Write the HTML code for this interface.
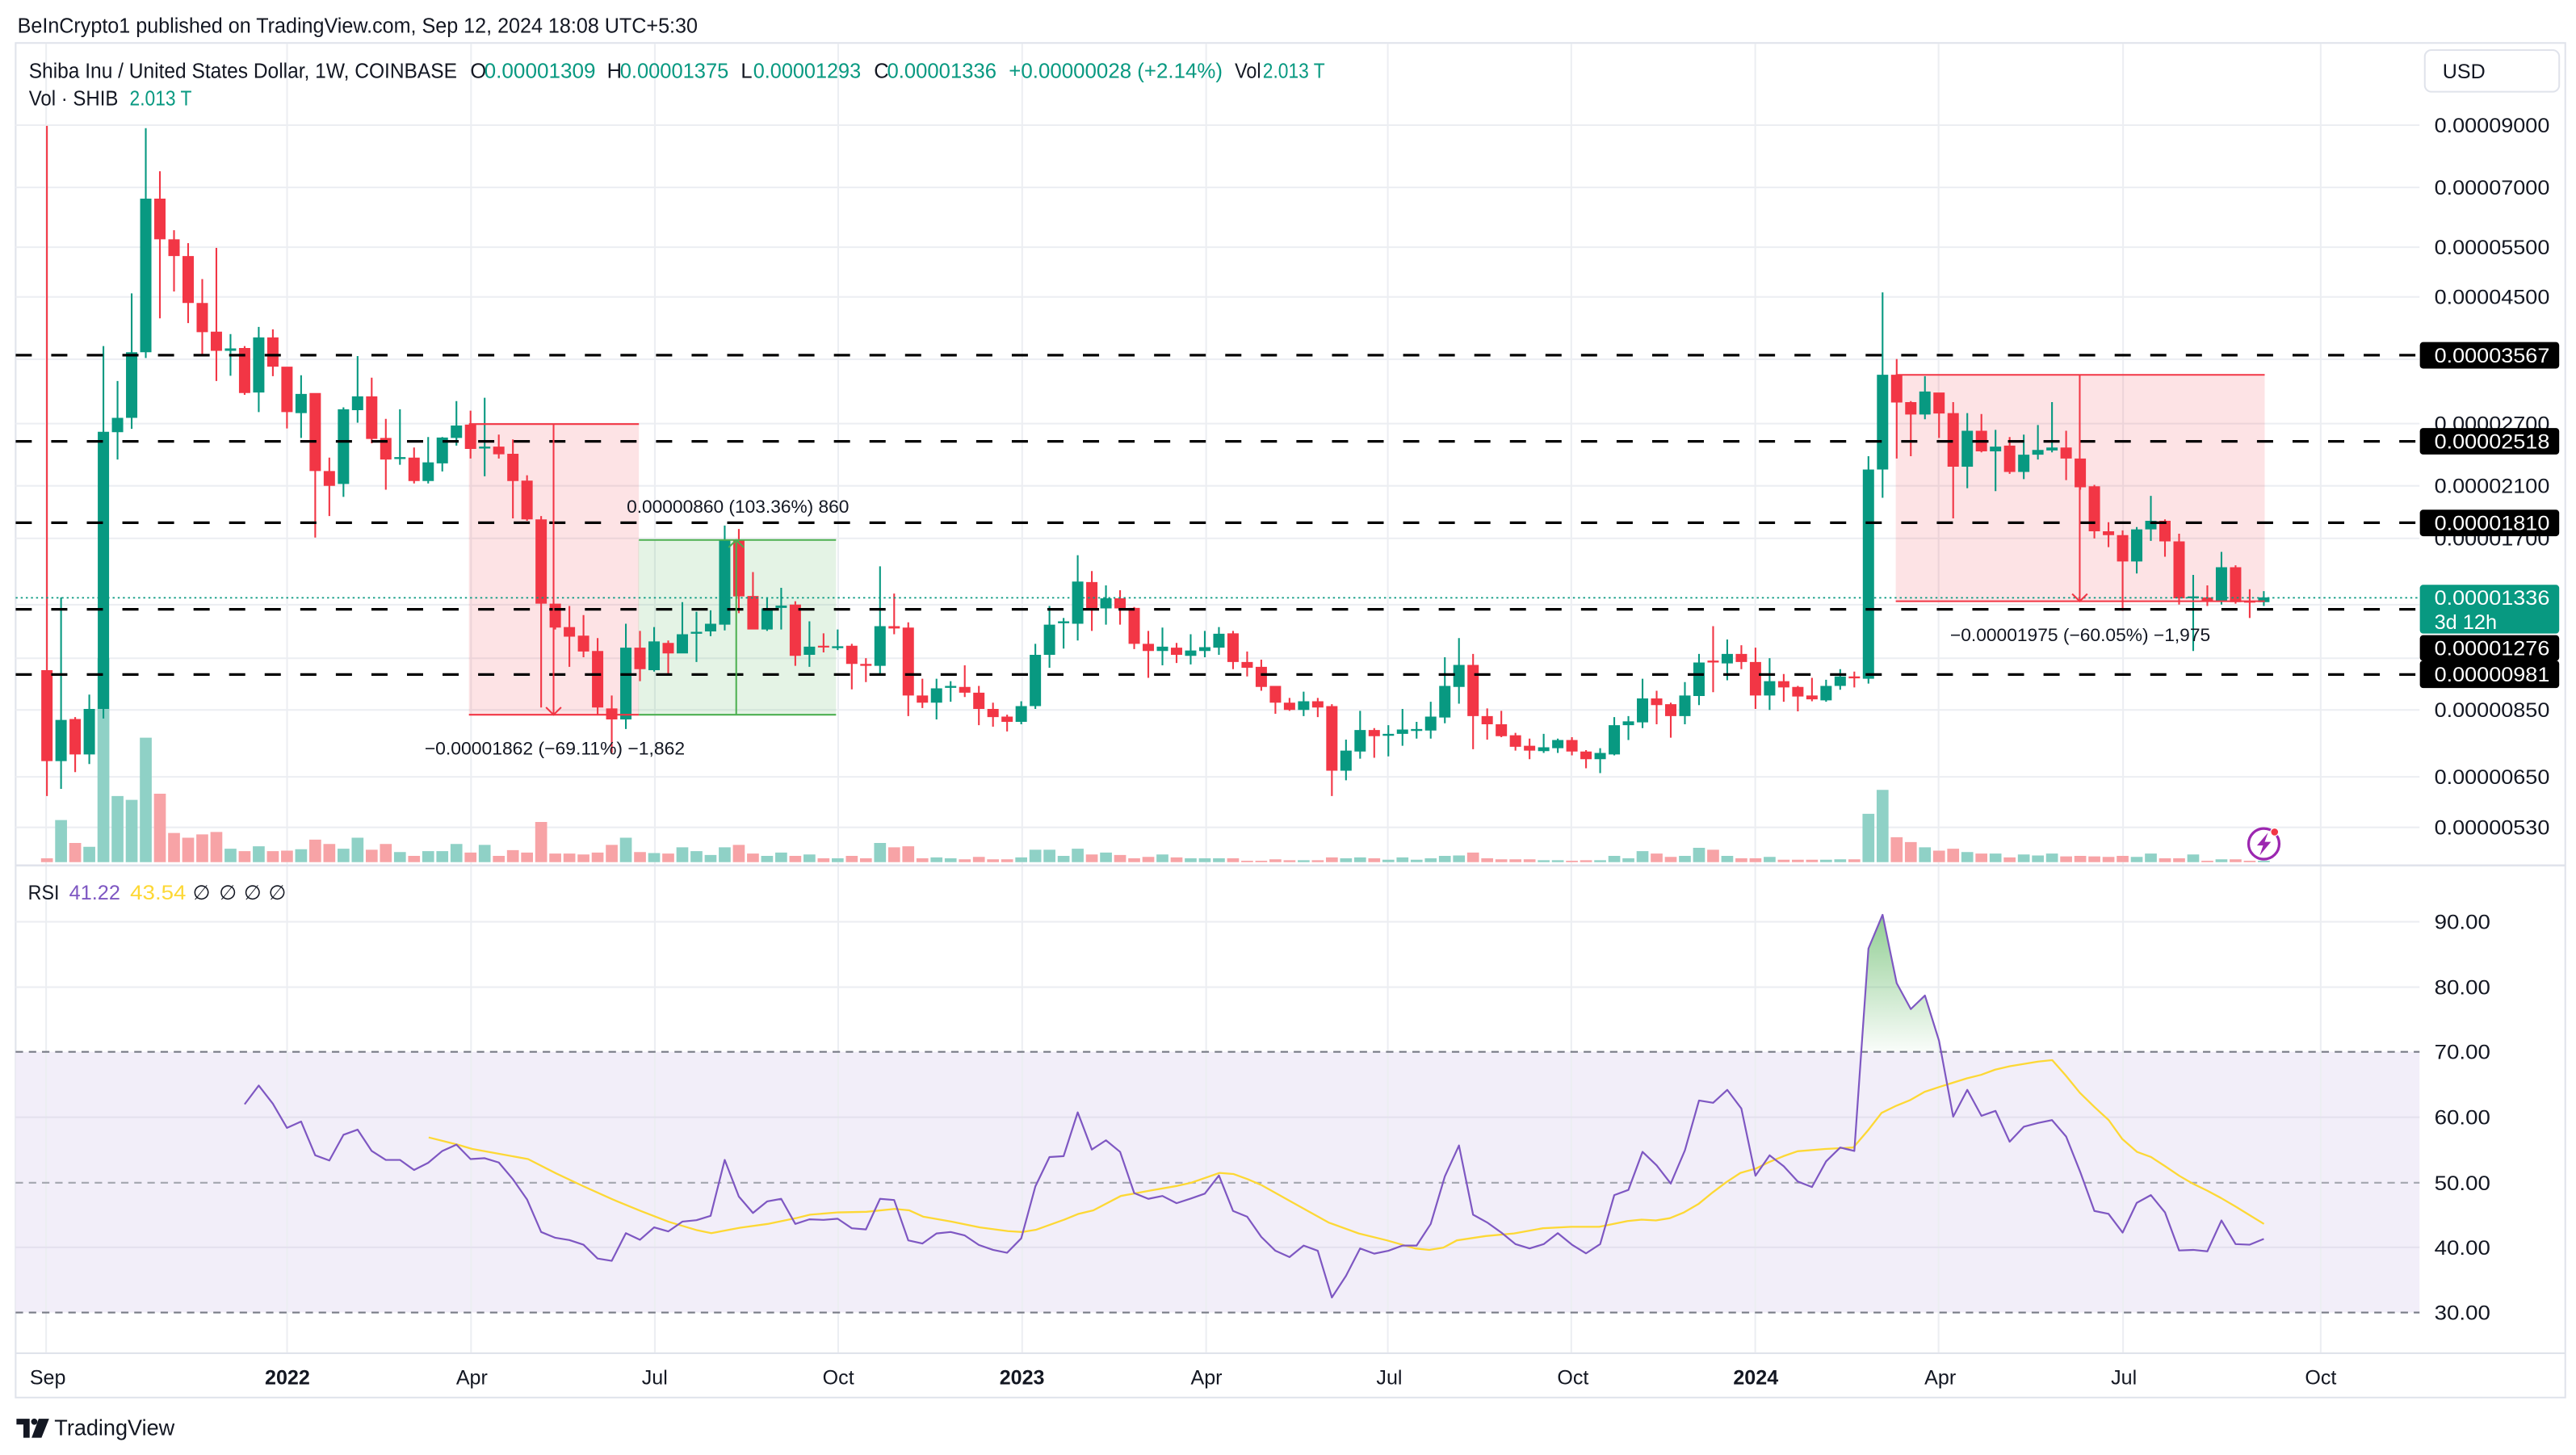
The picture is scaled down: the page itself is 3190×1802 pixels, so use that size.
<!DOCTYPE html>
<html><head><meta charset="utf-8">
<style>
html,body{margin:0;padding:0;background:#fff;width:3190px;height:1802px;overflow:hidden;}
svg{display:block;}
text{font-family:"Liberation Sans","DejaVu Sans",sans-serif;fill:#131722;}
.ax{font-size:12.3px;}
.wt{fill:#fff;}
</style></head>
<body>
<svg xmlns="http://www.w3.org/2000/svg" width="3190" height="1802" viewBox="0 0 1564 883.5" preserveAspectRatio="none">
<defs>
 <linearGradient id="ob" x1="0" y1="0" x2="0" y2="1">
  <stop offset="0" stop-color="#4caf50" stop-opacity="0.62"/>
  <stop offset="1" stop-color="#4caf50" stop-opacity="0.03"/>
 </linearGradient>
 <clipPath id="plot"><rect x="9.5" y="26.5" width="1459.5" height="498.5"/></clipPath>
</defs>
<rect width="1564" height="883.5" fill="#fff"/>

<!-- header -->
<text x="10.6" y="19.9" font-size="12.5" textLength="413" lengthAdjust="spacingAndGlyphs">BeInCrypto1 published on TradingView.com, Sep 12, 2024 18:08 UTC+5:30</text>

<!-- frame -->
<rect x="9.5" y="26.1" width="1548" height="822.5" fill="none" stroke="#e0e3eb" stroke-width="1"/>

<!-- RSI band -->
<rect x="9.5" y="638.7" width="1459.5" height="158.3" fill="#f2eef9"/>

<!-- grids -->
<g stroke="#eceef2" stroke-width="1">
<line x1="28" x2="28" y1="26.6" y2="821.2"/>
<line x1="174.3" x2="174.3" y1="26.6" y2="821.2"/>
<line x1="286" x2="286" y1="26.6" y2="821.2"/>
<line x1="397.6" x2="397.6" y1="26.6" y2="821.2"/>
<line x1="508.9" x2="508.9" y1="26.6" y2="821.2"/>
<line x1="620.6" x2="620.6" y1="26.6" y2="821.2"/>
<line x1="732.3" x2="732.3" y1="26.6" y2="821.2"/>
<line x1="842.6" x2="842.6" y1="26.6" y2="821.2"/>
<line x1="954" x2="954" y1="26.6" y2="821.2"/>
<line x1="1065.7" x2="1065.7" y1="26.6" y2="821.2"/>
<line x1="1177" x2="1177" y1="26.6" y2="821.2"/>
<line x1="1289" x2="1289" y1="26.6" y2="821.2"/>
<line x1="1409" x2="1409" y1="26.6" y2="821.2"/>
<line x1="9.5" x2="1469" y1="76" y2="76"/>
<line x1="9.5" x2="1469" y1="113.8" y2="113.8"/>
<line x1="9.5" x2="1469" y1="150.1" y2="150.1"/>
<line x1="9.5" x2="1469" y1="180.3" y2="180.3"/>
<line x1="9.5" x2="1469" y1="218.1" y2="218.1"/>
<line x1="9.5" x2="1469" y1="257.2" y2="257.2"/>
<line x1="9.5" x2="1469" y1="295" y2="295"/>
<line x1="9.5" x2="1469" y1="326.9" y2="326.9"/>
<line x1="9.5" x2="1469" y1="367.2" y2="367.2"/>
<line x1="9.5" x2="1469" y1="399.7" y2="399.7"/>
<line x1="9.5" x2="1469" y1="431.1" y2="431.1"/>
<line x1="9.5" x2="1469" y1="471.7" y2="471.7"/>
<line x1="9.5" x2="1469" y1="502.4" y2="502.4"/>
<line x1="9.5" x2="1469" y1="559.7" y2="559.7"/>
<line x1="9.5" x2="1469" y1="599.4" y2="599.4"/>
<line x1="9.5" x2="1469" y1="678.4" y2="678.4" stroke="#e4e1ee"/>
<line x1="9.5" x2="1469" y1="757.4" y2="757.4" stroke="#e4e1ee"/>
</g>

<!-- pane separators -->
<line x1="9.5" x2="1557.5" y1="525.5" y2="525.5" stroke="#e0e3eb" stroke-width="1.3"/>
<line x1="9.5" x2="1557.5" y1="821.7" y2="821.7" stroke="#e0e3eb" stroke-width="1"/>

<g clip-path="url(#plot)">
 <!-- measure boxes fills -->
 <rect x="284.7" y="257.5" width="103.2" height="176.5" fill="#f23645" fill-opacity="0.14"/>
 <rect x="387.5" y="327.9" width="120.1" height="106.1" fill="#4caf50" fill-opacity="0.15"/>
 <rect x="1151" y="227.6" width="224" height="137.5" fill="#f23645" fill-opacity="0.14"/>

 <g transform="translate(28.5,73.5) scale(8.573,0.2907)">
  <!-- volume -->
  <path fill="#8fd1c6" d="M.58 1460h.84V1548h-.84zM2.58 1516h.84V1548h-.84zM3.58 1122h.84V1548h-.84zM4.58 1410h.84V1548h-.84zM5.58 1418h.84V1548h-.84zM6.58 1288h.84V1548h-.84zM12.58 1520h.84V1548h-.84zM14.58 1515h.84V1548h-.84zM17.58 1521h.84V1548h-.84zM20.58 1520h.84V1548h-.84zM21.58 1497h.84V1548h-.84zM24.58 1527h.84V1548h-.84zM26.58 1525h.84V1548h-.84zM27.58 1525h.84V1548h-.84zM28.58 1510h.84V1548h-.84zM30.58 1512h.84V1548h-.84zM40.58 1497h.84V1548h-.84zM42.58 1529h.84V1548h-.84zM44.58 1517h.84V1548h-.84zM45.58 1525h.84V1548h-.84zM46.58 1533h.84V1548h-.84zM47.58 1517h.84V1548h-.84zM50.58 1535h.84V1548h-.84zM51.58 1528h.84V1548h-.84zM53.58 1532h.84V1548h-.84zM55.58 1540h.84V1548h-.84zM58.58 1508h.84V1548h-.84zM62.58 1538h.84V1548h-.84zM63.58 1540h.84V1548h-.84zM68.58 1538h.84V1548h-.84zM69.58 1522h.84V1548h-.84zM70.58 1522h.84V1548h-.84zM71.58 1535h.84V1548h-.84zM72.58 1520h.84V1548h-.84zM74.58 1528h.84V1548h-.84zM78.58 1532h.84V1548h-.84zM80.58 1540h.84V1548h-.84zM81.58 1540h.84V1548h-.84zM82.58 1540h.84V1548h-.84zM88.58 1544h.84V1548h-.84zM91.58 1540h.84V1548h-.84zM92.58 1538h.84V1548h-.84zM94.58 1543h.84V1548h-.84zM95.58 1538h.84V1548h-.84zM96.58 1543h.84V1548h-.84zM97.58 1540h.84V1548h-.84zM98.58 1535h.84V1548h-.84zM99.58 1534h.84V1548h-.84zM105.58 1544h.84V1548h-.84zM106.58 1544h.84V1548h-.84zM109.58 1544h.84V1548h-.84zM110.58 1535h.84V1548h-.84zM111.58 1540h.84V1548h-.84zM112.58 1525h.84V1548h-.84zM115.58 1535h.84V1548h-.84zM116.58 1518h.84V1548h-.84zM118.58 1535h.84V1548h-.84zM121.58 1537h.84V1548h-.84zM125.58 1543h.84V1548h-.84zM126.58 1542h.84V1548h-.84zM128.58 1447h.84V1548h-.84zM129.58 1397h.84V1548h-.84zM132.58 1517h.84V1548h-.84zM135.58 1527h.84V1548h-.84zM137.58 1530h.84V1548h-.84zM139.58 1532h.84V1548h-.84zM140.58 1534h.84V1548h-.84zM141.58 1530h.84V1548h-.84zM147.58 1537h.84V1548h-.84zM148.58 1530h.84V1548h-.84zM151.58 1532h.84V1548h-.84zM153.58 1542h.84V1548h-.84zM156.58 1545h.84V1548h-.84z"/>
  <path fill="#f7a3a6" d="M-.42 1540h.84V1548h-.84zM1.58 1508h.84V1548h-.84zM7.58 1405h.84V1548h-.84zM8.58 1487h.84V1548h-.84zM9.58 1497h.84V1548h-.84zM10.58 1490h.84V1548h-.84zM11.58 1485h.84V1548h-.84zM13.58 1525h.84V1548h-.84zM15.58 1525h.84V1548h-.84zM16.58 1524h.84V1548h-.84zM18.58 1501h.84V1548h-.84zM19.58 1510h.84V1548h-.84zM22.58 1522h.84V1548h-.84zM23.58 1510h.84V1548h-.84zM25.58 1535h.84V1548h-.84zM29.58 1528h.84V1548h-.84zM31.58 1535h.84V1548h-.84zM32.58 1523h.84V1548h-.84zM33.58 1528h.84V1548h-.84zM34.58 1464h.84V1548h-.84zM35.58 1530h.84V1548h-.84zM36.58 1530h.84V1548h-.84zM37.58 1532h.84V1548h-.84zM38.58 1528h.84V1548h-.84zM39.58 1512h.84V1548h-.84zM41.58 1527h.84V1548h-.84zM43.58 1530h.84V1548h-.84zM48.58 1512h.84V1548h-.84zM49.58 1530h.84V1548h-.84zM52.58 1535h.84V1548h-.84zM54.58 1540h.84V1548h-.84zM56.58 1535h.84V1548h-.84zM57.58 1540h.84V1548h-.84zM59.58 1517h.84V1548h-.84zM60.58 1515h.84V1548h-.84zM61.58 1540h.84V1548h-.84zM64.58 1542h.84V1548h-.84zM65.58 1537h.84V1548h-.84zM66.58 1542h.84V1548h-.84zM67.58 1542h.84V1548h-.84zM73.58 1532h.84V1548h-.84zM75.58 1533h.84V1548h-.84zM76.58 1540h.84V1548h-.84zM77.58 1537h.84V1548h-.84zM79.58 1538h.84V1548h-.84zM83.58 1540h.84V1548h-.84zM84.58 1545h.84V1548h-.84zM85.58 1545h.84V1548h-.84zM86.58 1542h.84V1548h-.84zM87.58 1544h.84V1548h-.84zM89.58 1544h.84V1548h-.84zM90.58 1538h.84V1548h-.84zM93.58 1540h.84V1548h-.84zM100.58 1528h.84V1548h-.84zM101.58 1540h.84V1548h-.84zM102.58 1542h.84V1548h-.84zM103.58 1542h.84V1548h-.84zM104.58 1542h.84V1548h-.84zM107.58 1545h.84V1548h-.84zM108.58 1544h.84V1548h-.84zM113.58 1530h.84V1548h-.84zM114.58 1537h.84V1548h-.84zM117.58 1522h.84V1548h-.84zM119.58 1540h.84V1548h-.84zM120.58 1540h.84V1548h-.84zM122.58 1543h.84V1548h-.84zM123.58 1543h.84V1548h-.84zM124.58 1543h.84V1548h-.84zM127.58 1542h.84V1548h-.84zM130.58 1496h.84V1548h-.84zM131.58 1506h.84V1548h-.84zM133.58 1524h.84V1548h-.84zM134.58 1520h.84V1548h-.84zM136.58 1530h.84V1548h-.84zM138.58 1538h.84V1548h-.84zM142.58 1536h.84V1548h-.84zM143.58 1535h.84V1548h-.84zM144.58 1536h.84V1548h-.84zM145.58 1537h.84V1548h-.84zM146.58 1535h.84V1548h-.84zM149.58 1540h.84V1548h-.84zM150.58 1540h.84V1548h-.84zM152.58 1545h.84V1548h-.84zM154.58 1542h.84V1548h-.84zM155.58 1545h.84V1548h-.84z"/>
  <!-- red candles -->
  <path fill="#f23645" d="M-.4 1147h.8V1337h-.8zM-.06 10h.12V1410h-.12zM1.6 1249h.8V1323h-.8zM1.94 1245h.12V1360h-.12zM7.6 162h.8V247h-.8zM7.94 105h.12V412h-.12zM8.6 247h.8V282h-.8zM8.94 228h.12V356h-.12zM9.6 282h.8V380h-.8zM9.94 255h.12V422h-.12zM10.6 380h.8V441h-.8zM10.94 330h.12V489h-.12zM11.6 440h.8V480h-.8zM11.94 265h.12V543h-.12zM13.6 474h.8V568h-.8zM13.94 470h.12V572h-.12zM15.6 452h.8V513h-.8zM15.94 435h.12V533h-.12zM16.6 513h.8V608h-.8zM16.94 513h.12V642h-.12zM18.6 568h.8V731h-.8zM18.94 568h.12V870h-.12zM19.6 731h.8V762h-.8zM19.94 703h.12V825h-.12zM22.6 575h.8V664h-.8zM22.94 536h.12V673h-.12zM23.6 662h.8V707h-.8zM23.94 622h.12V770h-.12zM25.6 703h.8V752h-.8zM25.94 682h.12V757h-.12zM29.6 634h.8V685h-.8zM29.94 605h.12V705h-.12zM31.6 680h.8V696h-.8zM31.94 655h.12V705h-.12zM32.6 695h.8V752h-.8zM32.94 665h.12V830h-.12zM33.6 751h.8V832h-.8zM33.94 740h.12V835h-.12zM34.6 832h.8V1008h-.8zM34.94 825h.12V1225h-.12zM35.6 1008h.8V1058h-.8zM35.94 1008h.12V1062h-.12zM36.6 1057h.8V1077h-.8zM36.94 1013h.12V1140h-.12zM37.6 1075h.8V1108h-.8zM37.94 1032h.12V1120h-.12zM38.6 1107h.8V1225h-.8zM38.94 1080h.12V1240h-.12zM39.6 1227h.8V1250h-.8zM39.94 1200h.12V1320h-.12zM41.6 1100h.8V1145h-.8zM41.94 1065h.12V1170h-.12zM43.6 1090h.8V1112h-.8zM43.94 1085h.12V1157h-.12zM48.6 875h.8V993h-.8zM48.94 852h.12V1028h-.12zM49.6 992h.8V1062h-.8zM49.94 942h.12V1062h-.12zM52.6 1010h.8V1117h-.8zM52.94 1003h.12V1138h-.12zM54.6 1096h.8V1099.5h-.8zM54.94 1070h.12V1110h-.12zM56.6 1096h.8V1134h-.8zM56.94 1092h.12V1187h-.12zM57.6 1134h.8V1138h-.8zM57.94 1122h.12V1172h-.12zM59.6 1055h.8V1060h-.8zM59.94 987h.12V1072h-.12zM60.6 1058h.8V1200h-.8zM60.94 1047h.12V1243h-.12zM61.6 1200h.8V1215h-.8zM61.94 1165h.12V1226h-.12zM64.6 1182h.8V1194h-.8zM64.94 1137h.12V1203h-.12zM65.6 1194h.8V1228h-.8zM65.94 1180h.12V1262h-.12zM66.6 1228h.8V1245h-.8zM66.94 1215h.12V1265h-.12zM67.6 1244h.8V1255h-.8zM67.94 1240h.12V1275h-.12zM73.6 963h.8V1020h-.8zM73.94 940h.12V1065h-.12zM75.6 997h.8V1018h-.8zM75.94 980h.12V1052h-.12zM76.6 1017h.8V1092h-.8zM76.94 1015h.12V1103h-.12zM77.6 1092h.8V1107h-.8zM77.94 1065h.12V1163h-.12zM79.6 1100h.8V1115h-.8zM79.94 1090h.12V1132h-.12zM83.6 1070h.8V1130h-.8zM83.94 1065h.12V1145h-.12zM84.6 1130h.8V1142h-.8zM84.94 1108h.12V1160h-.12zM85.6 1140h.8V1182h-.8zM85.94 1125h.12V1190h-.12zM86.6 1180h.8V1215h-.8zM86.94 1180h.12V1238h-.12zM87.6 1215h.8V1230h-.8zM87.94 1205h.12V1232h-.12zM89.6 1212h.8V1225h-.8zM89.94 1205h.12V1245h-.12zM90.6 1222h.8V1357h-.8zM90.94 1218h.12V1410h-.12zM93.6 1272h.8V1285h-.8zM93.94 1268h.12V1330h-.12zM100.6 1136h.8V1243h-.8zM100.94 1113h.12V1312h-.12zM101.6 1243h.8V1260h-.8zM101.94 1227h.12V1292h-.12zM102.6 1260h.8V1285h-.8zM102.94 1232h.12V1287h-.12zM103.6 1283h.8V1307h-.8zM103.94 1278h.12V1315h-.12zM104.6 1305h.8V1315h-.8zM104.94 1290h.12V1333h-.12zM107.6 1293h.8V1317h-.8zM107.94 1287h.12V1325h-.12zM108.6 1317h.8V1333h-.8zM108.94 1314h.12V1352h-.12zM113.6 1206h.8V1220h-.8zM113.94 1190h.12V1260h-.12zM114.6 1218h.8V1243h-.8zM114.94 1215h.12V1288h-.12zM117.6 1127h.8V1131h-.8zM117.94 1055h.12V1193h-.12zM119.6 1113h.8V1130h-.8zM119.94 1095h.12V1145h-.12zM120.6 1130h.8V1200h-.8zM120.94 1100h.12V1228h-.12zM122.6 1170h.8V1183h-.8zM122.94 1155h.12V1213h-.12zM123.6 1182h.8V1202h-.8zM123.94 1180h.12V1233h-.12zM124.6 1200h.8V1208h-.8zM124.94 1163h.12V1212h-.12zM127.6 1160h.8V1164h-.8zM127.94 1150h.12V1183h-.12zM130.6 530h.8V588h-.8zM130.94 497h.12V705h-.12zM131.6 587h.8V613h-.8zM131.94 585h.12V700h-.12zM133.6 567h.8V611h-.8zM133.94 567h.12V662h-.12zM134.6 610h.8V722h-.8zM134.94 587h.12V830h-.12zM136.6 647h.8V690h-.8zM136.94 612h.12V692h-.12zM138.6 678h.8V733h-.8zM138.94 660h.12V737h-.12zM142.6 682h.8V705h-.8zM142.94 647h.12V750h-.12zM143.6 705h.8V765h-.8zM143.94 705h.12V770h-.12zM144.6 763h.8V857h-.8zM144.94 760h.12V872h-.12zM145.6 857h.8V865h-.8zM145.94 838h.12V890h-.12zM146.6 865h.8V920h-.8zM146.94 855h.12V1023h-.12zM149.6 835h.8V878h-.8zM149.94 832h.12V910h-.12zM150.6 878h.8V997h-.8zM150.94 862h.12V1010h-.12zM152.6 995h.8V1003h-.8zM152.94 970h.12V1013h-.12zM154.6 932h.8V1005h-.8zM154.94 928h.12V1008h-.12zM155.6 1002h.8V1006h-.8zM155.94 978h.12V1038h-.12z"/>
  <!-- green candles -->
  <path fill="#089981" d="M.6 1251h.8V1337h-.8zM.94 995h.12V1395h-.12zM2.6 1228h.8V1323h-.8zM2.94 1198h.12V1343h-.12zM3.6 649h.8V1228h-.8zM3.94 470h.12V1248h-.12zM4.6 620h.8V650h-.8zM4.94 543h.12V707h-.12zM5.6 483h.8V620h-.8zM5.94 360h.12V643h-.12zM6.6 162h.8V483h-.8zM6.94 15h.12V495h-.12zM12.6 475h.8V480h-.8zM12.94 445h.12V532h-.12zM14.6 452h.8V567h-.8zM14.94 430h.12V608h-.12zM17.6 570h.8V610h-.8zM17.94 531h.12V662h-.12zM20.6 602h.8V758h-.8zM20.94 598h.12V785h-.12zM21.6 575h.8V604h-.8zM21.94 491h.12V630h-.12zM24.6 702h.8V706h-.8zM24.94 602h.12V718h-.12zM26.6 713h.8V752h-.8zM26.94 660h.12V757h-.12zM27.6 661h.8V715h-.8zM27.94 660h.12V732h-.12zM28.6 636h.8V662h-.8zM28.94 585h.12V678h-.12zM30.6 680h.8V684h-.8zM30.94 578h.12V742h-.12zM40.6 1100h.8V1250h-.8zM40.94 1050h.12V1270h-.12zM42.6 1087h.8V1147h-.8zM42.94 1057h.12V1150h-.12zM44.6 1072h.8V1112h-.8zM44.94 1005h.12V1112h-.12zM45.6 1067h.8V1071h-.8zM45.94 1025h.12V1130h-.12zM46.6 1050h.8V1066h-.8zM46.94 1022h.12V1076h-.12zM47.6 875h.8V1052h-.8zM47.94 845h.12V1064h-.12zM50.6 1018h.8V1062h-.8zM50.94 995h.12V1065h-.12zM51.6 1012h.8V1017h-.8zM51.94 975h.12V1062h-.12zM53.6 1098h.8V1115h-.8zM53.94 1045h.12V1140h-.12zM55.6 1097h.8V1101h-.8zM55.94 1062h.12V1105h-.12zM58.6 1055h.8V1138h-.8zM58.94 930h.12V1155h-.12zM62.6 1185h.8V1215h-.8zM62.94 1165h.12V1250h-.12zM63.6 1180h.8V1184h-.8zM63.94 1170h.12V1213h-.12zM68.6 1222h.8V1255h-.8zM68.94 1212h.12V1260h-.12zM69.6 1115h.8V1222h-.8zM69.94 1092h.12V1228h-.12zM70.6 1052h.8V1115h-.8zM70.94 1013h.12V1142h-.12zM71.6 1045h.8V1049h-.8zM71.94 1038h.12V1102h-.12zM72.6 962h.8V1050h-.8zM72.94 907h.12V1085h-.12zM74.6 997h.8V1018h-.8zM74.94 970h.12V1052h-.12zM78.6 1098h.8V1107h-.8zM78.94 1058h.12V1137h-.12zM80.6 1106h.8V1117h-.8zM80.94 1072h.12V1135h-.12zM81.6 1099h.8V1107h-.8zM81.94 1065h.12V1120h-.12zM82.6 1071h.8V1100h-.8zM82.94 1057h.12V1115h-.12zM88.6 1212h.8V1230h-.8zM88.94 1192h.12V1243h-.12zM91.6 1315h.8V1357h-.8zM91.94 1292h.12V1377h-.12zM92.6 1272h.8V1317h-.8zM92.94 1232h.12V1332h-.12zM94.6 1280h.8V1284h-.8zM94.94 1262h.12V1327h-.12zM95.6 1271h.8V1280h-.8zM95.94 1228h.12V1305h-.12zM96.6 1270h.8V1274h-.8zM96.94 1255h.12V1290h-.12zM97.6 1244h.8V1273h-.8zM97.94 1213h.12V1290h-.12zM98.6 1180h.8V1246h-.8zM98.94 1120h.12V1258h-.12zM99.6 1136h.8V1182h-.8zM99.94 1080h.12V1217h-.12zM105.6 1308h.8V1316h-.8zM105.94 1280h.12V1320h-.12zM106.6 1293h.8V1310h-.8zM106.94 1290h.12V1320h-.12zM109.6 1320h.8V1333h-.8zM109.94 1310h.12V1362h-.12zM110.6 1262h.8V1323h-.8zM110.94 1245h.12V1325h-.12zM111.6 1254h.8V1262h-.8zM111.94 1243h.12V1293h-.12zM112.6 1206h.8V1256h-.8zM112.94 1165h.12V1268h-.12zM115.6 1200h.8V1243h-.8zM115.94 1172h.12V1260h-.12zM116.6 1131h.8V1201h-.8zM116.94 1113h.12V1220h-.12zM118.6 1113h.8V1133h-.8zM118.94 1083h.12V1168h-.12zM121.6 1170h.8V1200h-.8zM121.94 1122h.12V1230h-.12zM125.6 1180h.8V1210h-.8zM125.94 1167h.12V1213h-.12zM126.6 1160h.8V1180h-.8zM126.94 1145h.12V1188h-.12zM128.6 728h.8V1165h-.8zM128.94 700h.12V1175h-.12zM129.6 530h.8V728h-.8zM129.94 358h.12V787h-.12zM132.6 565h.8V613h-.8zM132.94 533h.12V623h-.12zM135.6 647h.8V722h-.8zM135.94 610h.12V767h-.12zM137.6 680h.8V690h-.8zM137.94 645h.12V773h-.12zM139.6 697h.8V733h-.8zM139.94 655h.12V748h-.12zM140.6 687h.8V697h-.8zM140.94 635h.12V707h-.12zM141.6 682h.8V688h-.8zM141.94 587h.12V692h-.12zM147.6 853h.8V920h-.8zM147.94 848h.12V945h-.12zM148.6 835h.8V853h-.8zM148.94 783h.12V877h-.12zM151.6 993h.8V997h-.8zM151.94 948h.12V1107h-.12zM153.6 932h.8V1003h-.8zM153.94 900h.12V1010h-.12zM156.6 995h.8V1005h-.8zM156.94 982h.12V1013h-.12z"/>
 </g>

 <!-- dashed levels -->
 <g stroke="#000" stroke-width="1.6" stroke-dasharray="9.8 11.8">
  <line x1="9.5" x2="1468" y1="215.65" y2="215.65"/>
  <line x1="9.5" x2="1468" y1="267.98" y2="267.98"/>
  <line x1="9.5" x2="1468" y1="317.4" y2="317.4"/>
  <line x1="9.5" x2="1468" y1="370" y2="370"/>
  <line x1="9.5" x2="1468" y1="409.55" y2="409.55"/>
 </g>
 <line x1="9.5" x2="1469" y1="363" y2="363" stroke="#089981" stroke-width="0.9" stroke-dasharray="1.2 1.9"/>
 <!-- measure lines -->
 <g stroke="#f23645" stroke-width="1" fill="none">
  <line x1="284.7" x2="387.9" y1="257.5" y2="257.5"/>
  <line x1="284.7" x2="387.9" y1="434" y2="434"/>
  <line x1="336.1" x2="336.1" y1="257.5" y2="434"/>
  <polyline points="331.5,429.5 336.1,434 340.7,429.5"/>
  <line x1="1151" x2="1375" y1="227.6" y2="227.6"/>
  <line x1="1151" x2="1375" y1="365.1" y2="365.1"/>
  <line x1="1262.7" x2="1262.7" y1="227.6" y2="365.1"/>
  <polyline points="1258.1,360.6 1262.7,365.1 1267.3,360.6"/>
 </g>
 <g stroke="#4caf50" stroke-width="1" fill="none">
  <line x1="387.9" x2="507.6" y1="327.9" y2="327.9"/>
  <line x1="387.9" x2="507.6" y1="434" y2="434"/>
  <line x1="447" x2="447" y1="327.9" y2="434"/>
  <polyline points="442.4,332.4 447,327.9 451.6,332.4"/>
 </g>
</g>

<!-- measure labels -->
<text x="336.8" y="458.2" font-size="11" text-anchor="middle" textLength="158" lengthAdjust="spacingAndGlyphs">−0.00001862 (−69.11%) −1,862</text>
<text x="448" y="311.4" font-size="11" text-anchor="middle" textLength="135" lengthAdjust="spacingAndGlyphs">0.00000860 (103.36%) 860</text>
<text x="1263" y="389.3" font-size="11" text-anchor="middle" textLength="158" lengthAdjust="spacingAndGlyphs">−0.00001975 (−60.05%) −1,975</text>

<!-- legend -->
<text x="17.5" y="47.2" font-size="12.5" textLength="260" lengthAdjust="spacingAndGlyphs">Shiba Inu / United States Dollar, 1W, COINBASE</text>
<text x="285.5" y="47.2" font-size="12.5">O</text>
<text x="294" y="47.2" font-size="12.5" style="fill:#089981" textLength="67.6" lengthAdjust="spacingAndGlyphs">0.00001309</text>
<text x="368.5" y="47.2" font-size="12.5">H</text>
<text x="376.4" y="47.2" font-size="12.5" style="fill:#089981" textLength="66" lengthAdjust="spacingAndGlyphs">0.00001375</text>
<text x="449.8" y="47.2" font-size="12.5">L</text>
<text x="457.3" y="47.2" font-size="12.5" style="fill:#089981" textLength="65.4" lengthAdjust="spacingAndGlyphs">0.00001293</text>
<text x="530.6" y="47.2" font-size="12.5">C</text>
<text x="538.6" y="47.2" font-size="12.5" style="fill:#089981" textLength="66.4" lengthAdjust="spacingAndGlyphs">0.00001336</text>
<text x="612.5" y="47.2" font-size="12.5" style="fill:#089981" textLength="129.8" lengthAdjust="spacingAndGlyphs">+0.00000028 (+2.14%)</text>
<text x="749.7" y="47.2" font-size="12.5" textLength="15.9" lengthAdjust="spacingAndGlyphs">Vol</text>
<text x="766.7" y="47.2" font-size="12.5" style="fill:#089981" textLength="37.7" lengthAdjust="spacingAndGlyphs">2.013 T</text>
<text x="17.5" y="64" font-size="12.5" textLength="54.3" lengthAdjust="spacingAndGlyphs">Vol · SHIB</text>
<text x="78.7" y="64" font-size="12.5" style="fill:#089981" textLength="37.7" lengthAdjust="spacingAndGlyphs">2.013 T</text>

<!-- USD -->
<rect x="1472.2" y="30.4" width="81.6" height="25.3" rx="4" fill="#fff" stroke="#e0e3eb" stroke-width="1"/>
<text x="1483" y="47.5" font-size="12.3">USD</text>

<!-- price axis labels -->
<g class="ax">
<text x="1478" y="80.4" textLength="70" lengthAdjust="spacingAndGlyphs">0.00009000</text>
<text x="1478" y="118.2" textLength="70" lengthAdjust="spacingAndGlyphs">0.00007000</text>
<text x="1478" y="154.5" textLength="70" lengthAdjust="spacingAndGlyphs">0.00005500</text>
<text x="1478" y="184.7" textLength="70" lengthAdjust="spacingAndGlyphs">0.00004500</text>
<text x="1478" y="261.6" textLength="70" lengthAdjust="spacingAndGlyphs">0.00002700</text>
<text x="1478" y="299.4" textLength="70" lengthAdjust="spacingAndGlyphs">0.00002100</text>
<text x="1478" y="331.3" textLength="70" lengthAdjust="spacingAndGlyphs">0.00001700</text>
<text x="1478" y="435.5" textLength="70" lengthAdjust="spacingAndGlyphs">0.00000850</text>
<text x="1478" y="476.1" textLength="70" lengthAdjust="spacingAndGlyphs">0.00000650</text>
<text x="1478" y="506.8" textLength="70" lengthAdjust="spacingAndGlyphs">0.00000530</text>
</g>
<g>
<rect x="1469.2" y="207.7" width="84.6" height="16.1" rx="2" fill="#000"/>
<rect x="1469.2" y="259.9" width="84.6" height="16.1" rx="2" fill="#000"/>
<rect x="1469.2" y="309.5" width="84.6" height="16.1" rx="2" fill="#000"/>
<rect x="1469.2" y="355.1" width="84.6" height="29.6" rx="2" fill="#089981"/>
<rect x="1469.2" y="385.7" width="84.6" height="15.6" rx="2" fill="#000"/>
<rect x="1469.2" y="401.1" width="84.6" height="16.7" rx="2" fill="#000"/>
</g>
<g class="ax">
<text class="wt" x="1478" y="220.1" textLength="70" lengthAdjust="spacingAndGlyphs">0.00003567</text>
<text class="wt" x="1478" y="272.4" textLength="70" lengthAdjust="spacingAndGlyphs">0.00002518</text>
<text class="wt" x="1478" y="321.9" textLength="70" lengthAdjust="spacingAndGlyphs">0.00001810</text>
<text class="wt" x="1478" y="367.2" textLength="70" lengthAdjust="spacingAndGlyphs">0.00001336</text>
<text class="wt" x="1478" y="381.9" textLength="38" lengthAdjust="spacingAndGlyphs">3d 12h</text>
<text class="wt" x="1478" y="397.8" textLength="70" lengthAdjust="spacingAndGlyphs">0.00001276</text>
<text class="wt" x="1478" y="413.9" textLength="70" lengthAdjust="spacingAndGlyphs">0.00000981</text>
</g>

<!-- purple icon -->
<circle cx="1374.5" cy="512.4" r="9.3" fill="#fff" stroke="#9c27b0" stroke-width="1.6"/>
<path d="M1377,505.6 L1370.3,513.4 L1374,513.4 L1372,519.4 L1378.8,511.2 L1375,511.2 Z" fill="#9c27b0"/>
<circle cx="1381" cy="505.2" r="2.4" fill="#f23645" stroke="#fff" stroke-width="0.6"/>

<!-- RSI pane -->
<g stroke-width="1.05" fill="none">
 <line x1="9.5" x2="1469" y1="638.7" y2="638.7" stroke="#787b86" stroke-dasharray="4.5 3.5"/>
 <line x1="9.5" x2="1469" y1="718.2" y2="718.2" stroke="#a3a6af" stroke-dasharray="4.5 3.5"/>
 <line x1="9.5" x2="1469" y1="797" y2="797" stroke="#787b86" stroke-dasharray="4.5 3.5"/>
</g>

<g transform="translate(138,539.2) scale(0.4076,0.1751)">
 <polyline fill="none" stroke="#fdd835" stroke-width="2.3" vector-effect="non-scaling-stroke" stroke-linejoin="round" points="300,865 343,890 365,905 405,922 448,940 490,990 531,1035 574,1080 616,1120 658,1158 700,1187 721,1197 764,1178 805,1165 847,1145 868,1133 910,1125 952,1123 994,1113 1016,1118 1037,1140 1079,1157 1121,1177 1163,1190 1184,1193 1205,1185 1247,1150 1268,1130 1290,1118 1331,1068 1373,1050 1415,1033 1436,1022 1457,1005 1478,988 1499,992 1520,1010 1540,1030"/>
</g>
<g transform="translate(765.8,539.2) scale(0.408,0.1751)">
 <polyline fill="none" stroke="#fdd835" stroke-width="2.3" vector-effect="non-scaling-stroke" stroke-linejoin="round" points="0,1030 50,1095 100,1160 145,1198 187,1222 229,1250 250,1255 271,1247 291,1222 334,1207 376,1198 419,1180 461,1175 503,1175 545,1155 566,1150 587,1153 608,1145 629,1125 651,1095 672,1055 692,1020 713,988 736,973 756,950 777,930 798,913 839,905 881,900 903,840 923,780 945,755 966,735 987,707 1009,690 1050,660 1071,648 1092,630 1114,618 1135,610 1156,602 1177,597 1197,650 1218,710 1240,760 1261,805 1281,870 1303,915 1324,933 1345,965 1366,998 1386,1025 1408,1050 1428,1075 1450,1105 1471,1135 1492,1165"/>
</g>
<g transform="translate(28.5,539.2) scale(8.573,0.1751)">
 <polygon fill="url(#ob)" points="128.49,568.2 129,210 130,93 131,330 132,420 133,373 134,530 134.145,568.2"/>
 <polyline fill="none" stroke="#7e57c2" stroke-width="2.2" vector-effect="non-scaling-stroke" stroke-linejoin="round" points="14,750 15,685 16,748 17,832 18,810 19,927 20,945 21,856 22,838 23,912 24,943 25,943 26,978 27,953 28,912 29,890 30,940 31,937 32,952 33,1010 34,1080 35,1193 36,1213 37,1221 38,1237 39,1285 40,1293 41,1197 42,1220 43,1177 44,1191 45,1157 46,1152 47,1137 48,943 49,1070 50,1127 51,1087 52,1078 53,1165 54,1149 55,1151 56,1147 57,1180 58,1184 59,1078 60,1082 61,1222 62,1233 63,1198 64,1193 65,1205 66,1238 67,1255 68,1265 69,1215 70,1035 71,933 72,930 73,778 74,907 75,875 76,915 77,1058 78,1078 79,1068 80,1093 81,1077 82,1060 83,997 84,1120 85,1140 86,1210 87,1258 88,1280 89,1240 90,1258 91,1420 92,1345 93,1250 94,1268 95,1258 96,1240 97,1240 98,1165 99,1000 100,893 101,1133 102,1160 103,1195 104,1235 105,1250 106,1235 107,1197 108,1237 109,1267 110,1235 111,1065 112,1047 113,915 114,962 115,1025 116,910 117,737 118,745 119,700 120,765 121,998 122,927 123,965 124,1018 125,1037 126,948 127,900 128,912 129,210 130,93 131,330 132,420 133,373 134,530 135,793 136,700 137,790 138,773 139,880 140,828 141,815 142,805 143,862 144,985 145,1120 146,1130 147,1195 148,1092 149,1065 150,1125 151,1257 152,1255 153,1260 154,1153 155,1235 156,1237 157,1217"/>
</g>

<text x="17" y="546.2" font-size="12.3" textLength="19" lengthAdjust="spacingAndGlyphs">RSI</text>
<text x="42" y="546.2" font-size="12.3" style="fill:#7e57c2" textLength="31" lengthAdjust="spacingAndGlyphs">41.22</text>
<text x="79" y="546.2" font-size="12.3" style="fill:#fdd835" textLength="34" lengthAdjust="spacingAndGlyphs">43.54</text>
<text x="117" y="546.2" font-size="12.3">∅</text>
<text x="133" y="546.2" font-size="12.3">∅</text>
<text x="148" y="546.2" font-size="12.3">∅</text>
<text x="163" y="546.2" font-size="12.3">∅</text>

<g class="ax">
<text x="1478" y="564.1" textLength="34" lengthAdjust="spacingAndGlyphs">90.00</text>
<text x="1478" y="603.8" textLength="34" lengthAdjust="spacingAndGlyphs">80.00</text>
<text x="1478" y="643.1" textLength="34" lengthAdjust="spacingAndGlyphs">70.00</text>
<text x="1478" y="682.8" textLength="34" lengthAdjust="spacingAndGlyphs">60.00</text>
<text x="1478" y="722.6" textLength="34" lengthAdjust="spacingAndGlyphs">50.00</text>
<text x="1478" y="761.8" textLength="34" lengthAdjust="spacingAndGlyphs">40.00</text>
<text x="1478" y="801.4" textLength="34" lengthAdjust="spacingAndGlyphs">30.00</text>
</g>

<!-- time axis -->
<g class="ax" text-anchor="middle">
<text x="29" y="840.7">Sep</text>
<text x="174.5" y="840.7" font-weight="bold">2022</text>
<text x="286.5" y="840.7">Apr</text>
<text x="397.5" y="840.7">Jul</text>
<text x="509" y="840.7">Oct</text>
<text x="620.5" y="840.7" font-weight="bold">2023</text>
<text x="732.5" y="840.7">Apr</text>
<text x="843.5" y="840.7">Jul</text>
<text x="955" y="840.7">Oct</text>
<text x="1066" y="840.7" font-weight="bold">2024</text>
<text x="1178" y="840.7">Apr</text>
<text x="1289.5" y="840.7">Jul</text>
<text x="1409" y="840.7">Oct</text>
</g>

<!-- TradingView logo -->
<g fill="#131722">
 <path d="M10,861.5 H18 V873 H14.2 V865 H10 Z"/>
 <circle cx="20.8" cy="863.3" r="1.9"/>
 <path d="M23.5,861.5 H29.8 L25.2,873 H19.2 Z"/>
</g>
<text x="33" y="871.5" font-size="13.5" textLength="73" lengthAdjust="spacingAndGlyphs">TradingView</text>
</svg>
</body></html>
